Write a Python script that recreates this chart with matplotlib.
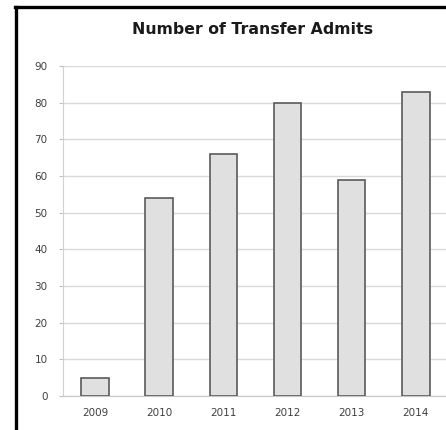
import numpy as np
import matplotlib.pyplot as plt
from matplotlib.lines import Line2D

years = ["2009", "2010", "2011", "2012", "2013", "2014"]
admits = [5, 54, 66, 80, 59, 83]
y_ticks = [0, 10, 20, 30, 40, 50, 60, 70, 80, 90]

fig = plt.figure(figsize=(4.46, 4.30), dpi=100)
ax = fig.add_axes([63 / 446, 34 / 430, 383 / 446, 330 / 430])

x = np.arange(len(years))
ax.bar(x, admits, width=0.43, color="#e0e0e0", edgecolor="#5a5a5a", linewidth=1.2, zorder=3)

ax.set_xlim(-0.5, 5.47)
ax.set_ylim(0, 90)
ax.set_xticks(x)
ax.set_xticklabels(years)
ax.set_yticks(y_ticks)
ax.tick_params(axis="both", labelsize=7.5, colors="#5a5a5a", labelcolor="#3f3f3f")
ax.tick_params(axis="x", length=0, pad=9)
ax.tick_params(axis="y", length=3, width=0.8, color="#bfbfbf", pad=8)

ax.grid(axis="y", color="#d9d9d9", linewidth=1, zorder=0)
for s in ["top", "right"]:
    ax.spines[s].set_visible(False)
ax.spines["left"].set_color("#d0d0d0")
ax.spines["bottom"].set_color("#c8c8c8")

fig.text(253 / 446, 1 - 30 / 430, "Number of Transfer Admits", ha="center", va="center",
         fontsize=11.3, fontweight="bold", color="#1a1a1a")

# black frame along the left and top edges
fig.add_artist(Line2D([16 / 446, 16 / 446], [0, 1 - 7 / 430], color="black", lw=2.4,
                      transform=fig.transFigure))
fig.add_artist(Line2D([15 / 446, 1], [1 - 7 / 430, 1 - 7 / 430], color="black", lw=2.4,
                      transform=fig.transFigure))

fig.savefig("out.png", dpi=100)
